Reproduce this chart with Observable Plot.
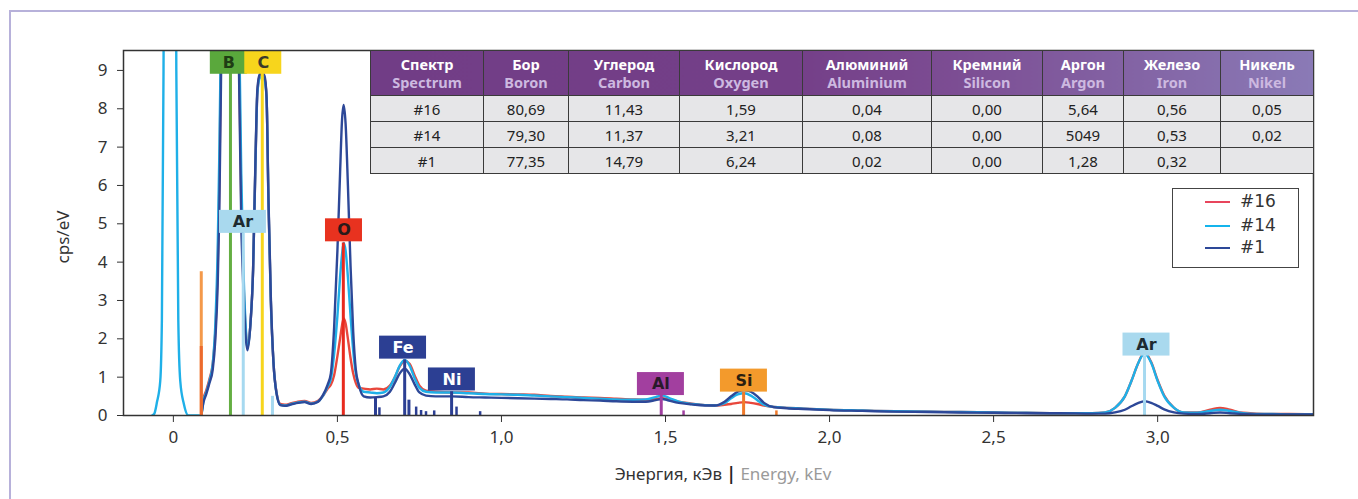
<!DOCTYPE html>
<html><head><meta charset="utf-8">
<script src="https://cdn.jsdelivr.net/npm/d3@7"></script>
<script src="https://cdn.jsdelivr.net/npm/@observablehq/plot@0.6"></script>
<style>
  html, body { margin: 0; padding: 0; background: #fff; }
  #wrap { position: relative; width: 1358px; height: 499px; overflow: hidden; background: #fff; font-family: "Noto Sans", sans-serif; }
  #outer { position: absolute; left: 9px; top: 10px; width: 1400px; height: 600px; border: 2px solid #b7b1da; box-sizing: border-box; }
  #chart { position: absolute; left: 0; top: 0; }
  #tbl { position: absolute; left: 370px; top: 50px; width: 943px; border-collapse: collapse; table-layout: fixed;
         background: linear-gradient(to right, #713d86 0%, #743f88 45%, #7c4d93 62%, #8a7ab6 100%);
         font-family: "Noto Sans", sans-serif; }
  #tbl th { height: 44px; padding: 0; border: 1px solid #3a3a3a; font-size: 14.5px; font-weight: 700; line-height: 18px; color: #fff; text-align: center; }
  #tbl th span { display: block; color: #cdb9e0; }
  #tbl td { height: 25px; padding: 0; border: 1px solid #3a3a3a; background: #e6e6e8; color: #222; font-size: 15px; text-align: center; }
  #legend { position: absolute; left: 1172px; top: 188px; width: 127px; height: 80px; box-sizing: border-box; border: 1.5px solid #444; background: #fff; font-family: "DejaVu Sans", sans-serif; font-size: 17px; color: #333; }
  #legend .row { position: absolute; left: 0; width: 120px; height: 20px; }
  #legend .sw { position: absolute; left: 32px; width: 25px; height: 2px; top: 10px; }
  #legend .lb { position: absolute; left: 67px; top: 0; line-height: 20px; }
  #ylabel { position: absolute; left: 62px; top: 237px; transform: translate(-50%, -50%) rotate(-90deg); font-size: 17px; color: #333; white-space: nowrap; }
  #caption { position: absolute; left: 473px; width: 500px; top: 462px; text-align: center; font-size: 17px; color: #333; }
  #caption .en { color: #9a9a9a; }
  #caption .sep { color: #222; font-weight: 700; }
</style>
</head><body>
<div id="wrap">
  <div id="outer"></div>
  <div id="chart"></div>
  <div id="ylabel">cps/eV</div>
  <table id="tbl"></table>
  <div id="legend"></div>
  <div id="caption"><span>Энергия, кЭв</span> <span class="sep">|</span> <span class="en">Energy, kEv</span></div>
</div>
<script>
// ---------- data ----------
const seriesNames = ["#16", "#14", "#1"];

const energy = [
  -0.065, -0.058, -0.05, -0.04, -0.035, -0.03, -0.022, -0.01, 0.0, 0.009, 0.015, 0.021, 0.032, 0.046, 0.07,
  0.085, 0.092, 0.1, 0.11, 0.12, 0.128, 0.135, 0.14, 0.145, 0.155, 0.175, 0.19, 0.2, 0.207, 0.213, 0.22,
  0.226, 0.235, 0.243, 0.25, 0.256, 0.263, 0.27, 0.278, 0.284, 0.29, 0.297, 0.305, 0.314, 0.326,
  0.34, 0.36, 0.38, 0.40, 0.42, 0.44, 0.455,
  0.47, 0.48, 0.49, 0.50, 0.508, 0.514, 0.519, 0.525, 0.532, 0.54, 0.548, 0.556, 0.565, 0.58,
  0.60, 0.62, 0.64, 0.66, 0.675, 0.69, 0.705, 0.72, 0.735, 0.75, 0.77, 0.80, 0.85, 0.9, 0.95,
  1.0, 1.05, 1.1, 1.15, 1.2, 1.25, 1.3, 1.35, 1.4, 1.44, 1.47, 1.49, 1.51, 1.54, 1.58, 1.62, 1.65,
  1.68, 1.70, 1.72, 1.74, 1.76, 1.78, 1.80, 1.83, 1.87, 1.92, 2.0, 2.1, 2.2, 2.3, 2.4, 2.5, 2.6, 2.7, 2.8,
  2.84, 2.87, 2.9, 2.92, 2.94, 2.96, 2.98, 3.0, 3.02, 3.05, 3.08, 3.12, 3.16, 3.19, 3.22, 3.26, 3.3, 3.35, 3.4, 3.475
];

const spectrum14 = [
  0, 0.05, 0.35, 0.9, 2.5, 9, 30, 60, 30, 9, 2.5, 0.9, 0.3, 0, 0,
  0, 0.4, 0.6, 0.9, 1.35, 2.4, 4.3, 6.8, 10, 16, 20, 16, 10.5, 6.3, 4.0, 2.4,
  1.75, 2.4, 3.8, 6.5, 8.4, 8.8, 8.85, 8.75, 8.3, 5.5, 3.0, 1.4, 0.6, 0.28,
  0.26, 0.3, 0.34, 0.36, 0.31, 0.36, 0.5,
  0.75, 0.95, 1.6, 2.6, 3.6, 4.2, 4.5, 4.3, 3.6, 2.6, 1.7, 1.1, 0.8, 0.62,
  0.6, 0.58, 0.6, 0.75, 1.0, 1.3, 1.45, 1.3, 0.98, 0.72, 0.62, 0.6, 0.6, 0.58, 0.56,
  0.55, 0.54, 0.52, 0.5, 0.48, 0.46, 0.44, 0.42, 0.41, 0.42, 0.48, 0.52, 0.46, 0.36, 0.3, 0.27, 0.26,
  0.32, 0.45, 0.55, 0.58, 0.52, 0.4, 0.28, 0.22, 0.2, 0.18, 0.15, 0.13, 0.11, 0.1, 0.09, 0.08, 0.07, 0.06, 0.06,
  0.08, 0.2, 0.5, 0.9, 1.35, 1.62, 1.38, 0.9, 0.5, 0.2, 0.08, 0.07, 0.12, 0.15, 0.12, 0.06, 0.04, 0.04, 0.03, 0.03
];

const spectrum16 = [
  null, null, null, null, null, null, null, null, null, null, null, null, null, null, null,
  0, 0.45, 0.65, 0.95, 1.35, 2.2, 3.8, 6, 9.5, 16, 20, 16, 9.5, 5.5, 3.7, 2.3,
  1.8, 2.4, 3.8, 6.5, 8.4, 8.85, 8.9, 8.8, 8.3, 5.5, 3.0, 1.4, 0.62, 0.3,
  0.28, 0.32, 0.36, 0.38, 0.33, 0.38, 0.5,
  0.7, 0.8, 1.05, 1.55, 2.0, 2.35, 2.53, 2.4, 2.0, 1.5, 1.1, 0.85, 0.72, 0.7,
  0.68, 0.7, 0.68, 0.78, 1.0, 1.28, 1.42, 1.35, 1.05, 0.78, 0.65, 0.62, 0.6, 0.6, 0.57,
  0.56, 0.55, 0.54, 0.51, 0.49, 0.47, 0.46, 0.44, 0.42, 0.41, 0.43, 0.45, 0.42, 0.36, 0.31, 0.27, 0.26,
  0.28, 0.3, 0.33, 0.35, 0.33, 0.3, 0.26, 0.22, 0.2, 0.18, 0.15, 0.13, 0.11, 0.1, 0.09, 0.08, 0.07, 0.06, 0.06,
  0.08, 0.2, 0.5, 0.9, 1.35, 1.65, 1.4, 0.92, 0.52, 0.2, 0.08, 0.08, 0.15, 0.2, 0.15, 0.07, 0.05, 0.04, 0.04, 0.03
];

const spectrum1 = [
  null, null, null, null, null, null, null, null, null, null, null, null, null, null, null,
  0, 0.35, 0.55, 0.85, 1.2, 2.0, 3.4, 5.3, 8.6, 16, 20, 16, 9.0, 5.0, 3.4, 2.1,
  1.7, 2.4, 3.8, 6.6, 8.5, 8.9, 8.95, 8.85, 8.3, 5.6, 3.1, 1.4, 0.6, 0.27,
  0.25, 0.29, 0.33, 0.35, 0.3, 0.35, 0.52,
  0.8, 1.1, 2.3, 4.3, 6.3, 7.7, 8.1, 7.6, 6.0, 3.9, 2.2, 1.2, 0.8, 0.5,
  0.47, 0.48, 0.5, 0.62, 0.85, 1.1, 1.22, 1.08, 0.82, 0.6, 0.52, 0.5, 0.5, 0.48, 0.47,
  0.46, 0.45, 0.44, 0.43, 0.42, 0.4, 0.39, 0.37, 0.36, 0.36, 0.4, 0.43, 0.39, 0.33, 0.29, 0.26, 0.26,
  0.36, 0.5, 0.62, 0.66, 0.62, 0.5, 0.33, 0.22, 0.19, 0.17, 0.14, 0.12, 0.1, 0.09, 0.08, 0.07, 0.06, 0.06, 0.05,
  0.05, 0.08, 0.15, 0.24, 0.32, 0.37, 0.33, 0.25, 0.16, 0.08, 0.05, 0.04, 0.06, 0.08, 0.06, 0.04, 0.03, 0.03, 0.03, 0.03
];

const xTicks = [0, 0.5, 1.0, 1.5, 2.0, 2.5, 3.0];
const yTicks = [0, 1, 2, 3, 4, 5, 6, 7, 8, 9];

// element marker lines (energy keV, top in cps/eV, element)
const markerEnergy  = [0.085, 0.085, 0.174, 0.213, 0.271, 0.302, 0.518, 0.616, 0.628, 0.705, 0.718, 0.74, 0.755, 0.77, 0.795, 0.848, 0.863, 0.935, 1.487, 1.555, 1.738, 1.838, 2.96];
const markerTop     = [3.75, 1.8, 8.95, 4.75, 8.95, 0.5, 4.5, 0.47, 0.2, 1.45, 0.4, 0.22, 0.13, 0.1, 0.12, 0.62, 0.22, 0.1, 0.55, 0.12, 0.6, 0.12, 1.55];
const markerElement = ["esc", "esc2", "B", "Ar", "C", "Ar", "O", "Fe", "Fe", "Fe", "Fe", "Fe", "Fe", "Fe", "Fe", "Ni", "Ni", "Ni", "Al", "Al", "Si", "Si", "Ar"];

// element tags
const labelText    = ["B", "C", "Ar", "O", "Fe", "Ni", "Al", "Si", "Ar"];
const labelEnergy  = [0.169, 0.274, 0.212, 0.52, 0.70, 0.849, 1.486, 1.739, 2.966];
const labelValue   = [9.2, 9.2, 5.05, 4.83, 1.77, 0.94, 0.82, 0.91, 1.85];

// composition table
const tableHeadRu = ["Спектр", "Бор", "Углерод", "Кислород", "Алюминий", "Кремний", "Аргон", "Железо", "Никель"];
const tableHeadEn = ["Spectrum", "Boron", "Carbon", "Oxygen", "Aluminium", "Silicon", "Argon", "Iron", "Nikel"];
const tableRow16 = ["#16", "80,69", "11,43", "1,59", "0,04", "0,00", "5,64", "0,56", "0,05"];
const tableRow14 = ["#14", "79,30", "11,37", "3,21", "0,08", "0,00", "5049", "0,53", "0,02"];
const tableRow1  = ["#1", "77,35", "14,79", "6,24", "0,02", "0,00", "1,28", "0,32", ""];

// ---------- styles ----------
const seriesColor = {"#16": "#e8473c", "#14": "#1fb0e8", "#1": "#2d4898"};
const legendColor = {"#16": "#e8455c", "#14": "#14b4ec", "#1": "#2d4898"};
const elementColor = {esc: "#f4994a", esc2: "#ec6a2e", B: "#64ae42", C: "#f7d51c", O: "#e82a1e", Fe: "#2c3f93", Ni: "#2c3f93", Al: "#a03fa0", Si: "#f07a2a", Ar: "#a6d9f0"};
const labelFill = {B: "#5aa83c", C: "#f7d51c", Ar: "#a9d9ee", O: "#e8321f", Fe: "#2c3f93", Ni: "#2c3f93", Al: "#a23f9f", Si: "#f39a2c"};
const labelInk  = {B: "#1f3d14", C: "#3a3a2a", Ar: "#1e2a30", O: "#2a1a1a", Fe: "#ffffff", Ni: "#ffffff", Al: "#2a1a2a", Si: "#2a2010"};
const colWidths = [113, 85, 111, 123, 129, 111, 81, 97, 93];

const W = 1358, H = 499, ML = 123, MR = 45, MT = 50, MB = 84;
const xDomain = [-0.152, 3.475], yDomain = [0, 9.52];
const kx = (xDomain[1] - xDomain[0]) / (W - ML - MR);
const ky = (yDomain[1] - yDomain[0]) / (H - MT - MB);

// ---------- build ----------
const seriesData = [spectrum16, spectrum14, spectrum1];
const lines = seriesNames.map((name, s) =>
  energy.map((e, i) => ({energy: e, value: seriesData[s][i], series: name})).filter(d => d.value != null));

const markers = markerEnergy.map((e, i) => ({energy: e, top: markerTop[i], element: markerElement[i]}));
const tags = labelText.map((t, i) => {
  const w = t.length === 1 ? 37 : 47, h = 23;
  return {text: t, energy: labelEnergy[i], value: labelValue[i],
    x1: labelEnergy[i] - (w / 2) * kx, x2: labelEnergy[i] + (w / 2) * kx,
    y1: labelValue[i] - (h / 2) * ky, y2: labelValue[i] + (h / 2) * ky};
});

const fmt = d => d === 0 ? "0" : d.toFixed(1).replace(".", ",");

const chart = Plot.plot({
  width: W, height: H,
  marginLeft: ML, marginRight: MR, marginTop: MT, marginBottom: MB,
  style: {fontFamily: "Noto Sans, sans-serif", fontSize: "17px", color: "#333", background: "transparent", overflow: "visible"},
  x: {domain: xDomain, ticks: xTicks, tickFormat: fmt, tickSize: 7, tickPadding: 8, label: null},
  y: {domain: yDomain, ticks: yTicks, tickFormat: d => String(d), tickSize: 6, tickPadding: 10, label: null},
  marks: [
    ...lines.map(data => Plot.line(data, {x: "energy", y: "value", stroke: d => seriesColor[d.series], strokeWidth: 2.4, curve: "monotone-x", clip: true})),
    Plot.ruleX(markers, {x: "energy", y1: 0, y2: "top", stroke: d => elementColor[d.element], strokeWidth: d => (d.top < 0.3 ? 2.5 : 3)}),
    Plot.rect(tags, {x1: "x1", x2: "x2", y1: "y1", y2: "y2", fill: d => labelFill[d.text], clip: true}),
    Plot.text(tags, {x: "energy", y: "value", text: "text", fill: d => labelInk[d.text], fontSize: 16, fontWeight: "bold", fontFamily: "DejaVu Sans, sans-serif"}),
    Plot.frame({stroke: "#333", strokeWidth: 1.5})
  ]
});
document.getElementById("chart").appendChild(chart);

// table
const tbl = document.getElementById("tbl");
const cg = document.createElement("colgroup");
colWidths.forEach(w => { const c = document.createElement("col"); c.style.width = w + "px"; cg.appendChild(c); });
tbl.appendChild(cg);
const hr = document.createElement("tr");
tableHeadRu.forEach((ru, i) => {
  const th = document.createElement("th");
  th.appendChild(document.createTextNode(ru));
  const sp = document.createElement("span"); sp.textContent = tableHeadEn[i]; th.appendChild(sp);
  hr.appendChild(th);
});
tbl.appendChild(hr);
[tableRow16, tableRow14, tableRow1].forEach(row => {
  const tr = document.createElement("tr");
  row.forEach(v => { const td = document.createElement("td"); td.textContent = v; tr.appendChild(td); });
  tbl.appendChild(tr);
});

// legend
const lg = document.getElementById("legend");
const rowTops = [5, 29, 51];
seriesNames.forEach((name, i) => {
  const r = document.createElement("div"); r.className = "row"; r.style.top = (rowTops[i] - 3) + "px";
  const sw = document.createElement("div"); sw.className = "sw"; sw.style.background = legendColor[name];
  const lb = document.createElement("div"); lb.className = "lb"; lb.textContent = name;
  r.appendChild(sw); r.appendChild(lb); lg.appendChild(r);
});
</script>
</body></html>
